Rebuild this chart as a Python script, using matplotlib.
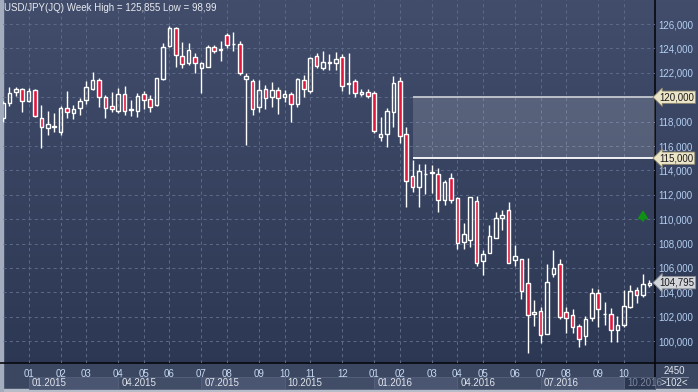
import matplotlib
matplotlib.use('Agg')
import matplotlib.pyplot as plt
import numpy as np
from matplotlib.patches import Rectangle
from matplotlib.lines import Line2D
from matplotlib.colors import LinearSegmentedColormap
from matplotlib.transforms import blended_transform_factory as btf

# ---------------- data (weekly USD/JPY candles) ----------------
opens = [118.27, 119.55, 120.40, 120.67, 119.72, 120.59, 118.27, 117.45, 117.53, 117.12,
         119.09, 118.68, 119.09, 119.77, 120.67, 121.41, 120.04, 119.28, 118.90, 120.26,
         118.95, 118.90, 120.26, 119.82, 119.36, 121.49, 124.20, 125.64, 123.38, 122.78,
         123.27, 122.37, 122.50, 124.09, 123.87, 125.10, 124.33, 124.36, 121.52, 121.33,
         119.17, 120.67, 119.99, 120.59, 119.99, 120.26, 119.42, 121.41, 120.51, 123.38,
         122.42, 122.81, 122.78, 123.27, 121.10, 121.36, 120.23, 120.40, 120.32, 116.77,
         116.96, 118.76, 121.36, 116.96, 113.52, 112.62, 113.68, 113.80, 113.68, 111.57,
         113.35, 111.71, 108.16, 108.30, 111.52, 106.57, 107.20, 108.49, 110.13, 110.75,
         106.66, 106.71, 104.74, 102.23, 102.50, 100.56, 105.48, 106.30, 102.37, 102.15,
         101.25, 100.42, 101.87, 103.98, 102.20, 102.20, 100.92, 101.33, 102.83, 104.20,
         103.79, 104.58]
closes = [119.50, 120.32, 120.67, 119.72, 120.51, 118.49, 117.53, 117.78, 117.64, 119.09,
          118.76, 119.00, 119.69, 120.81, 121.41, 120.04, 119.14, 119.00, 120.26, 118.90,
          119.00, 120.13, 119.77, 119.22, 121.55, 124.14, 125.64, 123.46, 122.69, 123.87,
          122.83, 122.78, 124.09, 123.81, 123.92, 124.28, 124.38, 122.01, 121.74, 119.00,
          120.59, 119.96, 120.59, 119.90, 120.23, 119.42, 121.46, 120.64, 123.19, 122.58,
          122.86, 122.86, 123.13, 120.95, 121.16, 120.32, 120.43, 120.13, 117.26, 116.96,
          118.87, 121.14, 116.85, 113.16, 112.64, 113.98, 113.72, 113.84, 111.57, 113.02,
          111.57, 108.02, 108.76, 111.79, 106.44, 107.12, 108.62, 110.07, 110.32, 106.44,
          106.98, 104.12, 102.15, 102.42, 100.51, 104.82, 105.97, 101.96, 101.87, 101.19,
          100.15, 101.79, 103.92, 102.61, 102.26, 100.92, 101.33, 102.88, 104.11, 103.79,
          104.66, 104.795]
highs = [119.70, 120.86, 120.86, 120.73, 120.73, 120.64, 119.36, 118.87, 118.68, 119.28,
         120.51, 119.36, 119.90, 121.33, 122.09, 121.60, 120.18, 120.45, 120.73, 120.92,
         119.77, 120.32, 120.51, 120.18, 121.60, 124.47, 125.855, 125.78, 124.55, 124.42,
         123.60, 122.91, 124.28, 124.28, 124.61, 125.23, 125.37, 124.63, 122.01, 121.46,
         121.41, 121.00, 121.27, 120.86, 120.59, 120.45, 121.55, 121.82, 123.32, 123.60,
         123.79, 123.51, 123.68, 123.51, 123.65, 121.46, 120.67, 120.67, 120.51, 118.40,
         119.09, 121.74, 121.68, 117.53, 114.85, 114.52, 114.52, 114.44, 114.17, 113.21,
         113.76, 111.85, 109.66, 111.79, 111.93, 107.48, 109.52, 110.62, 110.75, 111.44,
         107.88, 106.71, 106.79, 103.37, 102.78, 106.30, 107.48, 106.71, 102.83, 102.61,
         101.41, 102.07, 104.33, 104.25, 103.24, 102.69, 102.07, 104.20, 104.60, 104.47,
         105.48, 104.99]
lows = [118.00, 119.28, 120.10, 118.81, 119.64, 118.40, 115.81, 116.90, 117.17, 116.90,
        118.27, 118.19, 118.54, 119.42, 120.59, 119.22, 118.33, 118.81, 118.73, 118.54,
        118.49, 118.40, 119.00, 118.81, 119.28, 121.41, 124.14, 122.50, 122.42, 122.64,
        121.96, 120.37, 122.45, 123.60, 123.00, 124.00, 123.81, 121.82, 116.08, 118.54,
        118.81, 119.00, 119.22, 118.62, 119.63, 118.00, 119.17, 119.99, 120.32, 122.42,
        122.23, 122.23, 122.23, 120.54, 120.26, 120.04, 120.10, 119.90, 117.10, 116.44,
        115.95, 117.58, 116.27, 110.97, 112.26, 111.03, 112.07, 112.17, 110.62, 111.16,
        111.30, 107.58, 107.58, 107.75, 106.16, 105.43, 107.20, 108.43, 109.11, 106.44,
        106.16, 103.43, 98.99, 101.25, 99.88, 100.56, 105.24, 101.79, 100.65, 100.70,
        99.50, 99.69, 101.68, 101.14, 101.33, 99.96, 99.96, 101.19, 102.69, 103.10,
        103.65, 104.47]

month_idx = [4, 9, 13, 18, 22, 26, 31, 35, 40, 44, 48, 53,
             58, 62, 67, 71, 75, 80, 84, 88, 93, 97]
month_labels = ['01', '02', '03', '04', '05', '06', '07', '08', '09', '10', '11', '12',
                '01', '02', '03', '04', '05', '06', '07', '08', '09', '10']
quarter_idx = [4, 18, 31, 44, 58, 71, 84, 97]
quarter_labels = ['01.2015', '04.2015', '07.2015', '10.2015',
                  '01.2016', '04.2016', '07.2016', '10.2016']
price_ticks = list(range(100, 127, 2))
zone_start = 64
zone_low, zone_high = 115.0, 120.0
last_price = 104.795
signal_idx, signal_val = [100], [110.3]
title = 'USD/JPY(JQ) Week High = 125,855 Low = 98,99'

# ---------------- figure ----------------
W, H = 698, 392
plt.rcParams['font.family'] = ['Liberation Sans', 'DejaVu Sans']
fig = plt.figure(figsize=(W / 100, H / 100), dpi=100)

bg = fig.add_axes([0, 0, 1, 1])
bg.axis('off')
grad = np.linspace(0, 1, 256)[:, None]
cmap = LinearSegmentedColormap.from_list('bg', ['#414d6b', '#2b3652'])
bg.imshow(grad, aspect='auto', cmap=cmap, extent=[0, 1, 0, 1])
bg.set_xlim(0, 1); bg.set_ylim(0, 1)

def px(x, y):
    return x / W, 1 - y / H

# bottom axis strip
bg.add_patch(Rectangle((0, 3 / H), 1, 26 / H, color='#3b4761', zorder=2))
# borders
bg.add_patch(Rectangle((0, 0), 1, 3 / H, color='#b7bdc8', zorder=3))
bg.add_patch(Rectangle((0, 0), 2.5 / W, 1, color='#a4adbd', zorder=3))

ax = fig.add_axes([3 / W, 29 / H, 652 / W, 363 / H])
ax.patch.set_alpha(0)
ax.set_xlim(0, 101.875)
ax.set_ylim(98.21, 127.97)
for s in ax.spines.values():
    s.set_visible(False)
ax.set_axisbelow(True)
ax.grid(True, color='#5b6987', linestyle=(0, (3, 3)), linewidth=0.75)

ax.set_xticks(month_idx)
ax.set_xticklabels(month_labels)
ax.tick_params(axis='x', length=0, pad=4.2, labelsize=7, labelcolor='#c6d9f3')
ax.yaxis.tick_right()
ax.set_yticks(price_ticks)
ax.set_yticklabels([f'{v:.3f}'.replace('.', ',') for v in price_ticks])
ax.tick_params(axis='y', length=0, pad=2.3, labelsize=7, labelcolor='#b3cff2')

o = np.array(opens); c = np.array(closes); h = np.array(highs); l = np.array(lows)
x = np.arange(len(o))
top = np.maximum(o, c); bot = np.minimum(o, c)
ax.vlines(x, top, h, color='white', lw=1.0, zorder=3)
ax.vlines(x, l, bot, color='white', lw=1.0, zorder=3)
up = c >= o
hgt = np.maximum(top - bot, 0.03)
ax.bar(x[up], hgt[up], bottom=bot[up], width=0.56, facecolor='none',
       edgecolor='white', lw=1.0, zorder=4)
ax.bar(x[~up], hgt[~up], bottom=bot[~up], width=0.56, facecolor='#e2173d',
       edgecolor='white', lw=1.0, zorder=4)

# zone
xr = ax.get_xlim()[1]
ax.add_patch(Rectangle((zone_start, zone_low), xr - zone_start, zone_high - zone_low,
                       facecolor='white', alpha=0.15, lw=0, zorder=2))
ax.hlines(zone_high, zone_start, xr, color='#c4c8d0', lw=1.3, zorder=5)
ax.hlines(zone_low, zone_start, xr, color='white', lw=1.3, zorder=5)

# signal arrow
for si, sv in zip(signal_idx, signal_val):
    ax.annotate('', xy=(si, sv + 0.45), xytext=(si, sv - 0.42),
                arrowprops=dict(arrowstyle='-|>,head_length=0.45,head_width=0.28',
                                color='#109014', lw=1.6, mutation_scale=10,
                                shrinkA=0, shrinkB=0), zorder=6)

# frame lines
bg.add_line(Line2D([0, 1], [1 - 363 / H] * 2, color='#07080c', lw=1.2, zorder=5))
bg.add_line(Line2D([655 / W] * 2, [3 / H, 1], color='#07080c', lw=1.2, zorder=5))

# right-side price boxes
tr = btf(ax.transAxes, ax.transData)
xoff = 1 + 4.5 / 652
for val, fc, ec in [(zone_high, '#ece5c8', '#8d866a'), (zone_low, '#ece5c8', '#8d866a'),
                    (last_price, '#d2d5da', '#8a8f98')]:
    ax.text(xoff, val, f'{val:.3f}'.replace('.', ','), transform=tr, ha='left',
            va='center', fontsize=7, color='#1b1b1b', clip_on=False, zorder=10,
            bbox=dict(boxstyle='larrow,pad=0.12', fc=fc, ec=ec, lw=0.6))

# quarter boxes
ytr = btf(ax.transData, fig.transFigure)
ends = quarter_idx[1:] + [xr]
for k, (q0, q1, lab) in enumerate(zip(quarter_idx, ends, quarter_labels)):
    last = k == len(quarter_idx) - 1
    col = '#2b3650' if last else ('#4a5671' if k % 2 == 0 else '#414d67')
    rect = Rectangle((q0, 3 / H), q1 - q0, 12.5 / H, transform=ytr, facecolor=col,
                     edgecolor='#56627c', lw=0.6, clip_on=False, zorder=3)
    ax.add_patch(rect)
    t = ax.text(q0 + 0.5, 1 - 383.5 / H, lab, transform=ytr, ha='left', va='center',
                fontsize=7, color='#7d889c' if last else '#dfe4ec', zorder=4)
    if last:
        t.set_clip_path(rect)

fig.text(*px(4, 8), title, fontsize=7, color='#e7eaf0', va='center', ha='left')
fig.text(*px(674, 370.5), '2450', fontsize=7, color='#e0e5ee', va='center', ha='center')
fig.text(*px(674, 383.5), '>102<', fontsize=7, color='#e0e5ee', va='center', ha='center')
bg.add_line(Line2D([661 / W, 688 / W], [1 - 377 / H] * 2, color='#8b95a9', lw=0.6, zorder=5))

fig.savefig('out.png', dpi=100)
